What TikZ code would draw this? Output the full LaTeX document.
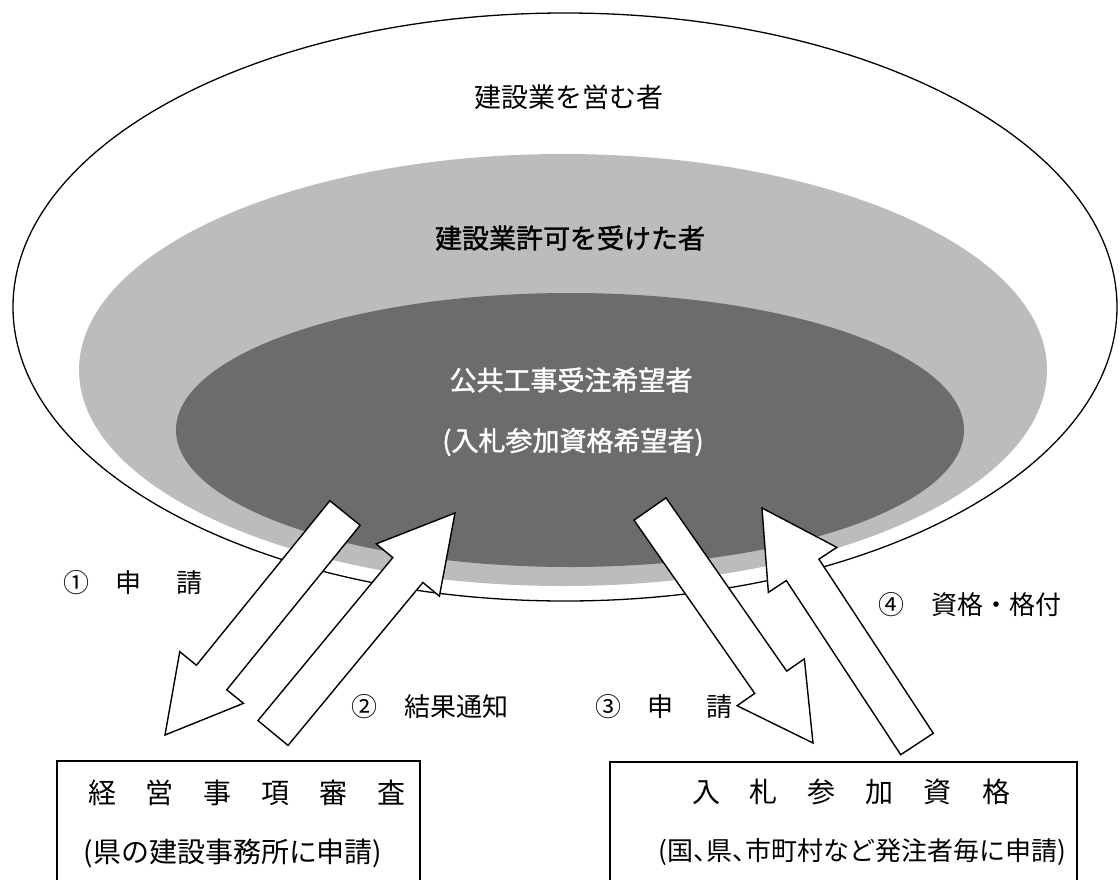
\documentclass[tikz,border=0pt]{standalone}
\usepackage{fontspec}
\newfontfamily\cjk{Noto Sans CJK JP}
\newfontfamily\cjkb[FakeBold=1.5]{Noto Sans CJK JP}
\usetikzlibrary{calc}
\definecolor{lightband}{RGB}{188,188,188}
\definecolor{darkband}{RGB}{108,108,108}
\tikzset{
  outline/.style={draw=black, line width=1.3pt},
  hollowarrow/.style={draw=black, fill=white, line width=1.4pt, line join=miter},
  bigtxt/.style={inner sep=0pt, font=\cjk\fontsize{27}{30}\selectfont},
  boldtxt/.style={inner sep=0pt, font=\cjkb\fontsize{27}{30}\selectfont},
  lbl/.style={inner sep=0pt, font=\cjk\fontsize{26}{30}\selectfont},
  boxtxt/.style={inner sep=0pt, font=\cjk\fontsize{28}{30}\selectfont},
  boxline/.style={draw=black, line width=1.2pt},
}
% #1 = tail coordinate, #2 = tip coordinate
\newcommand\hollowblockarrow[2]{%
  \path ($(#2)!74pt!(#1)$) coordinate (#1n);
  \filldraw[hollowarrow]
    ($(#1)!19.5pt!90:(#2)$) --
    ($(#1n)!19.5pt!-90:(#1)$) --
    ($(#1n)!41pt!-90:(#1)$) --
    (#2) --
    ($(#1n)!41pt!90:(#1)$) --
    ($(#1n)!19.5pt!90:(#1)$) --
    ($(#1)!19.5pt!-90:(#2)$) -- cycle;
}
\begin{document}
\begin{tikzpicture}[x=1pt,y=-1pt]
\useasboundingbox (0,0) rectangle (1120,879);
\clip (0,0) rectangle (1120,879);
\fill[white] (0,0) rectangle (1120,879);

% nested ellipses
\draw[outline, fill=white] (565,307) ellipse [x radius=552pt, y radius=294pt];
\fill[lightband] (563,370) ellipse [x radius=484pt, y radius=216pt];
\fill[darkband] (570,430) ellipse [x radius=394pt, y radius=137pt];

% ellipse texts
\node[bigtxt] (outertxt) at (569,97) {建設業を営む者};
\node[boldtxt] (midtxt) at (570,238) {建設業許可を受けた者};
\node[boldtxt, text=white] (innertxt) at (571,380) {公共工事受注希望者};
\node[boldtxt, text=white] (innertxtb) at (573,442) {(入札参加資格希望者)};

% arrow end points
\coordinate (ta) at (345,513);
\coordinate (ha) at (165,735);
\coordinate (tb) at (273,733);
\coordinate (hb) at (455,513);
\coordinate (tc) at (650,509);
\coordinate (hc) at (813,743);
\coordinate (td) at (917,744);
\coordinate (hd) at (762,508);

\hollowblockarrow{ta}{ha}
\hollowblockarrow{tb}{hb}
\hollowblockarrow{tc}{hc}
\hollowblockarrow{td}{hd}

% arrow labels
\node[lbl] (la) at (133,583) {①\hspace{26pt}申\hspace{35pt}請};
\node[lbl] (lb) at (430,707) {②\hspace{28pt}結果通知};
\node[lbl] (lc) at (664,707) {③\hspace{26pt}申\hspace{34pt}請};
\node[lbl] (ld) at (970,605) {④\hspace{27pt}資格・格付};

% boxes
\draw[boxline] (57,890) -- (57,761) -- (420,761) -- (420,890);
\draw[boxline] (610,890) -- (610,762) -- (1077,762) -- (1077,890);
\node[boxtxt] (boxa1) at (247,793) {経\hspace{30pt}営\hspace{30pt}事\hspace{30pt}項\hspace{30pt}審\hspace{30pt}査};
\node[boxtxt] (boxa2) at (233,853) {(県の建設事務所に申請)};
\node[boxtxt] (boxb1) at (851,792) {入\hspace{30pt}札\hspace{30pt}参\hspace{30pt}加\hspace{30pt}資\hspace{30pt}格};
\node[lbl] (boxb2) at (862,852) {(国\makebox[13pt][l]{、}県\makebox[13pt][l]{、}市町村など発注者毎に申請)};
\end{tikzpicture}
\end{document}
